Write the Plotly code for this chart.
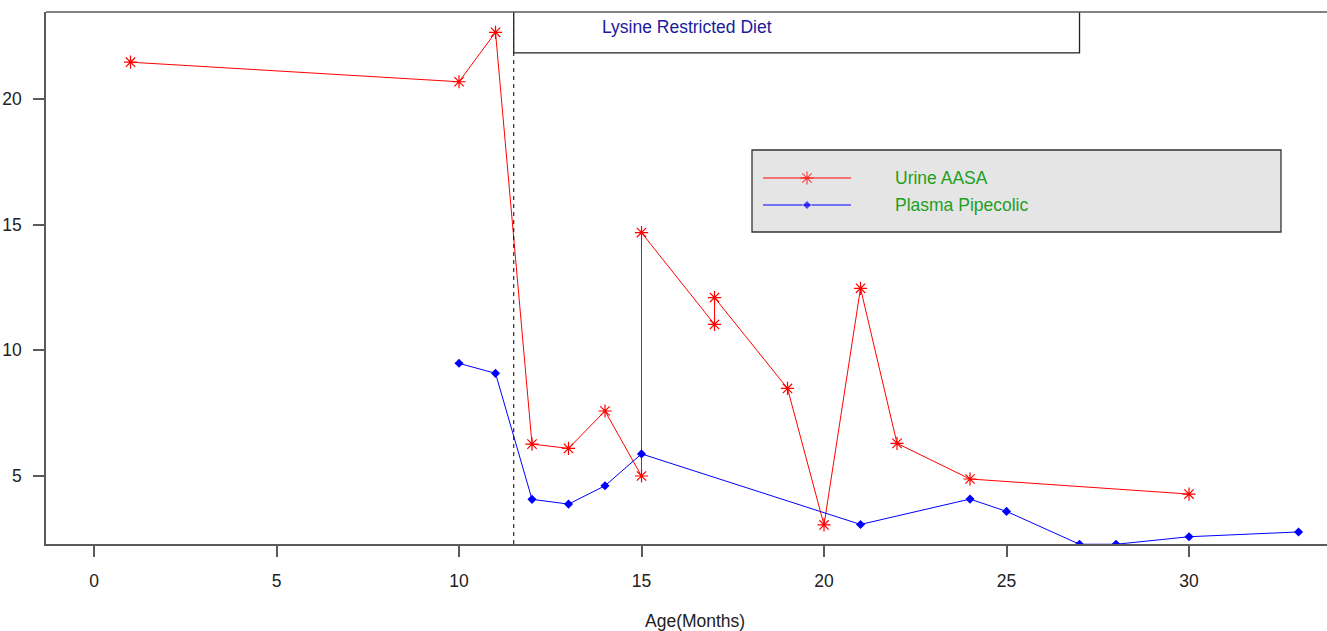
import plotly.graph_objects as go

# ---- data ----
aasa_age = [1, 10, 11, 12, 13, 14, 15, 15, 17, 17, 19, 20, 21, 22, 24, 30]
aasa_val = [21.48, 20.70, 22.67, 6.26, 6.09, 7.58, 4.99, 14.69, 11.03, 12.10,
            8.48, 3.04, 12.47, 6.29, 4.87, 4.27]
pip_age = [10, 11, 12, 13, 14, 15, 21, 24, 25, 27, 28, 30, 33]
pip_val = [9.48, 9.08, 4.06, 3.87, 4.60, 5.87, 3.06, 4.07, 3.58, 2.27, 2.27, 2.57, 2.76]
x_ticks = [0, 5, 10, 15, 20, 25, 30]
y_ticks = [5, 10, 15, 20]
diet_start = 11.5
diet_end = 27.0
series_names = ["Urine AASA", "Plasma Pipecolic"]
x_title = "Age(Months)"
diet_label = "Lysine Restricted Diet"

FONT = "Liberation Sans, Arial, sans-serif"
FS = 17.5
AXC = "#5a5a5a"
W, H = 1327, 631
ML, MR, MT, MB = 46, 0, 12, 87
PW = W - ML - MR
PH = H - MT - MB

def px_x(p):
    return (p - ML) / PW

def px_y(p):
    return (H - MB - p) / PH

fig = go.Figure()

red_marker = dict(symbol="asterisk-open", size=11, line=dict(color="red", width=1.2), color="red")
blue_marker = dict(symbol="diamond", size=7, color="blue")

fig.add_trace(go.Scatter(x=aasa_age, y=aasa_val, mode="lines+markers",
                         line=dict(color="red", width=1), marker=red_marker,
                         name=series_names[0], showlegend=False))
fig.add_trace(go.Scatter(x=pip_age, y=pip_val, mode="lines+markers",
                         line=dict(color="blue", width=1), marker=blue_marker,
                         name=series_names[1], showlegend=False))

# legend samples on an inset axis
fig.add_trace(go.Scatter(x=[0, 0.5, 1], y=[1, 1, 1], mode="lines+markers", xaxis="x2", yaxis="y2",
                         line=dict(color="red", width=1),
                         marker=dict(symbol="asterisk-open", size=[0, 11, 0],
                                     line=dict(color="red", width=1.2), color="red"),
                         showlegend=False, hoverinfo="skip"))
fig.add_trace(go.Scatter(x=[0, 0.5, 1], y=[0, 0, 0], mode="lines+markers", xaxis="x2", yaxis="y2",
                         line=dict(color="blue", width=1),
                         marker=dict(symbol="diamond", size=[0, 7, 0], color="blue"),
                         showlegend=False, hoverinfo="skip"))

shapes = [
    # dashed diet start line
    dict(type="line", xref="x", yref="paper", x0=diet_start, x1=diet_start, y0=0, y1=1,
         line=dict(color="black", width=1, dash="4px,4px")),
    # diet label box
    dict(type="rect", xref="x", yref="y", x0=diet_start, x1=diet_end, y0=21.85, y1=24.5,
         fillcolor="white", line=dict(color="#222", width=1.3), layer="above"),
    # top border
    dict(type="line", xref="paper", yref="paper", x0=0, x1=1, y0=1, y1=1,
         line=dict(color=AXC, width=1.5)),
    # legend box
    dict(type="rect", xref="paper", yref="paper", x0=px_x(752), x1=px_x(1281),
         y0=px_y(232), y1=px_y(150), fillcolor="#e5e5e5",
         line=dict(color="#333", width=1.3), layer="below"),
]

annotations = [
    dict(text=diet_label, xref="x", yref="y", x=13.86, y=22.88, xanchor="left", yanchor="middle",
         showarrow=False, font=dict(family=FONT, size=FS, color="#1a1aa0")),
    dict(text=x_title, xref="paper", yref="paper", x=px_x(695), y=px_y(621),
         xanchor="center", yanchor="middle", showarrow=False,
         font=dict(family=FONT, size=FS, color="#222")),
    dict(text=series_names[0], xref="paper", yref="y2", x=px_x(893), y=1,
         xanchor="left", yanchor="middle", showarrow=False,
         font=dict(family=FONT, size=FS, color="#1f9f1f")),
    dict(text=series_names[1], xref="paper", yref="y2", x=px_x(893), y=0,
         xanchor="left", yanchor="middle", showarrow=False,
         font=dict(family=FONT, size=FS, color="#1f9f1f")),
]

fig.update_layout(
    width=W, height=H,
    margin=dict(l=ML, r=MR, t=MT, b=MB, autoexpand=False),
    paper_bgcolor="white", plot_bgcolor="rgba(0,0,0,0)",
    showlegend=False,
    font=dict(family=FONT, size=FS, color="#222"),
    xaxis=dict(range=[-1.315, 33.78], tickvals=x_ticks, ticks="outside", ticklen=11,
               tickwidth=1.5, tickcolor=AXC, showline=True, linecolor=AXC, linewidth=1.5,
               showgrid=False, zeroline=False, ticklabelstandoff=9,
               tickfont=dict(family=FONT, size=FS, color="#222"), automargin=False),
    yaxis=dict(range=[2.28, 23.48], tickvals=y_ticks, ticks="outside", ticklen=11,
               tickwidth=1.5, tickcolor=AXC, showline=True, linecolor=AXC, linewidth=1.5,
               showgrid=False, zeroline=False, ticklabelstandoff=8,
               tickfont=dict(family=FONT, size=FS, color="#222"), automargin=False),
    xaxis2=dict(domain=[px_x(763), px_x(851)], range=[0, 1], visible=False, anchor="y2",
                fixedrange=True),
    yaxis2=dict(domain=[px_y(215), px_y(168)], range=[-0.37, 1.37], visible=False, anchor="x2",
                fixedrange=True),
    shapes=shapes,
    annotations=annotations,
)

fig.write_html("out.html", config={"displayModeBar": False},
               post_script="document.body.style.margin='0';document.body.style.overflow='hidden';")
